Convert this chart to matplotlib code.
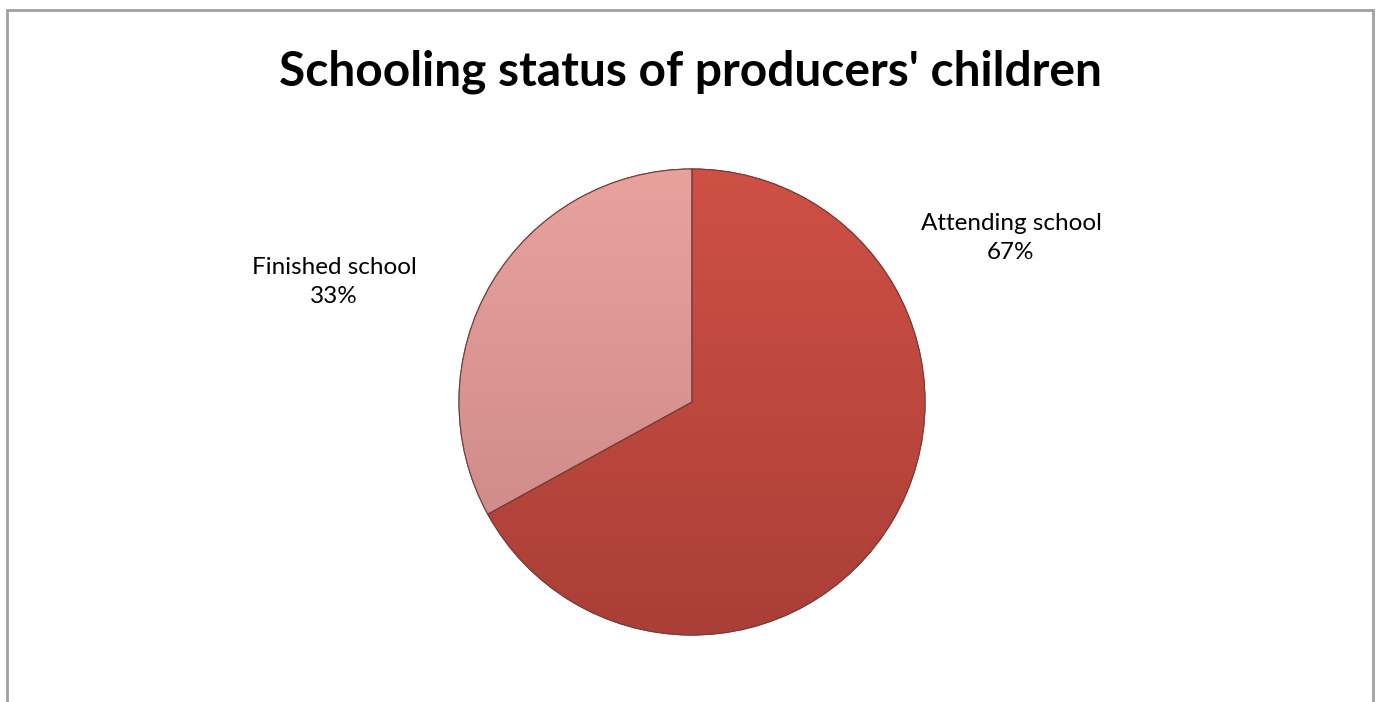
import matplotlib
matplotlib.use("Agg")
import matplotlib.pyplot as plt
from matplotlib.patches import Rectangle, Wedge
import numpy as np

# schooling status shares (percent)
categories = ["Attending school", "Finished school"]
shares = [67, 33]
colors_top = ["#cf5045", "#e8a29e"]
colors_bottom = ["#aa3f37", "#c98584"]

W, H = 1381, 702
fig = plt.figure(figsize=(W / 100, H / 100), dpi=100)
ax = fig.add_axes([0, 0, 1, 1])

center = (692, H - 402)
radius = 233

wedges, _ = ax.pie(shares, startangle=90, counterclock=False,
                   center=center, radius=radius, colors=colors_top,
                   wedgeprops=dict(edgecolor="#6e3531", linewidth=0.8))

# vertical shading inside each slice, lighter at the top
for w, ctop, cbot in zip(wedges, colors_top, colors_bottom):
    c1 = np.array(matplotlib.colors.to_rgb(ctop))
    c2 = np.array(matplotlib.colors.to_rgb(cbot))
    t = np.linspace(0, 1, 256)[:, None]
    grad = (c1 * (1 - t) + c2 * t)[:, None, :]
    im = ax.imshow(grad, extent=(center[0] - radius, center[0] + radius,
                                 center[1] - radius, center[1] + radius),
                   origin="upper", aspect="auto", zorder=w.get_zorder() + 0.1,
                   interpolation="bilinear")
    im.set_clip_path(w)
    edge = Wedge(w.center, w.r, w.theta1, w.theta2, facecolor="none",
                 edgecolor="#7a3c37", linewidth=0.8, zorder=w.get_zorder() + 0.2)
    ax.add_patch(edge)

ax.set_xlim(0, W)
ax.set_ylim(0, H)
ax.set_aspect("equal")
ax.axis("off")

# outer chart frame
ax.add_patch(Rectangle((7.5, -5), W - 15, H - 9.5 + 5, fill=False,
                       edgecolor="#a0a0a0", linewidth=2, clip_on=False))

ax.text(690, H - 72, "Schooling status of producers' children",
        ha="center", va="center", fontsize=34.5, fontweight="bold",
        family="Lato", color="black")

label_pos = [(1011, H - 238), (334, H - 282)]
for cat, val, (x, y) in zip(categories, shares, label_pos):
    ax.text(x, y, f"{cat}\n{val}%", ha="center", va="center",
            fontsize=17.5, family="Lato", color="black", linespacing=1.45)

fig.savefig("out.png", dpi=100)
